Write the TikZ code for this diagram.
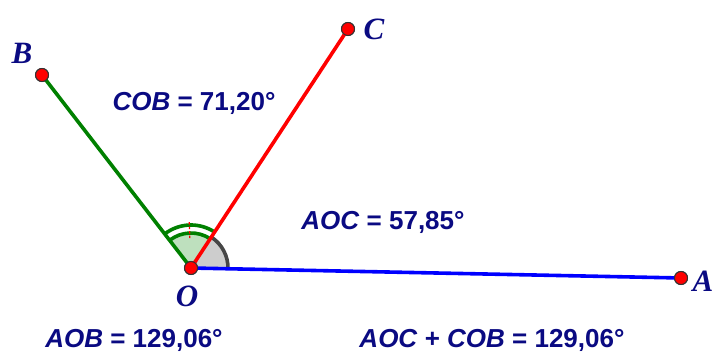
\documentclass[tikz,border=0pt]{standalone}
\usepackage{fontspec}
\setmainfont{Liberation Serif}
\newfontfamily\lsans{Liberation Sans}
\definecolor{navy}{RGB}{10,10,130}
\definecolor{ggreen}{RGB}{0,128,0}
\definecolor{gfill}{RGB}{190,224,190}
\definecolor{grayfill}{RGB}{205,205,205}
\definecolor{grayline}{RGB}{70,70,70}
\tikzset{
  pt/.style={circle,draw=black!80,fill=red,line width=1pt,minimum size=13pt,inner sep=0pt},
  ptlabel/.style={text=navy,font=\fontsize{31}{33}\selectfont\bfseries\itshape,inner sep=0pt},
  measure/.style={text=navy,font=\lsans\fontsize{26}{30}\selectfont\bfseries,inner sep=0pt},
  seg/.style={line width=3.6pt}
}
\newcommand{\mv}[1]{\textit{#1}}
\begin{document}
\begin{tikzpicture}[x=1pt,y=1pt]
\useasboundingbox (0,0) rectangle (714,353);
\coordinate (o) at (191,85);
% angle sectors
\fill[grayfill] (o) -- ++(-1.17:37) arc[start angle=-1.17,end angle=56.7,radius=37] -- cycle;
\draw[grayline,line width=3.6pt] ([shift={(-1.17:37)}]o) arc[start angle=-1.17,end angle=56.7,radius=37];
\fill[gfill] (o) -- ++(56.7:35) arc[start angle=56.7,end angle=127.67,radius=35] -- cycle;
\draw[ggreen,line width=3.6pt] ([shift={(56.7:35)}]o) arc[start angle=56.7,end angle=127.67,radius=35];
\draw[ggreen,line width=3.6pt] ([shift={(56.7:43)}]o) arc[start angle=56.7,end angle=127.67,radius=43];
\draw[red,line width=1.2pt,dash pattern=on 2.5pt off 2pt] ([shift={(92.2:30)}]o) -- ([shift={(92.2:47)}]o);
% points
\node[pt] (O) at (191,85) {};
\node[pt] (A) at (681,75) {};
\node[pt] (B) at (42,278) {};
\node[pt] (C) at (348,324) {};
\draw[seg,blue] (O.center) -- (A.center);
\draw[seg,ggreen] (O.center) -- (B.center);
\draw[seg,red] (O.center) -- (C.center);
\node[pt] at (O) {};
\node[pt] at (A) {};
\node[pt] at (B) {};
\node[pt] at (C) {};
% point labels
\node[ptlabel] (lO) at (187,57) {O};
\node[ptlabel] (lA) at (703,72) {A};
\node[ptlabel] (lB) at (22,300) {B};
\node[ptlabel] (lC) at (374,324) {C};
% measurements
\node[measure] (m1) at (194,250) {\mv{COB} = 71,20°};
\node[measure] (m2) at (383,131) {\mv{AOC} = 57,85°};
\node[measure] (m3) at (134,13) {\mv{AOB} = 129,06°};
\node[measure] (m4) at (492,13) {\mv{AOC} + \mv{COB} = 129,06°};
\end{tikzpicture}
\end{document}
